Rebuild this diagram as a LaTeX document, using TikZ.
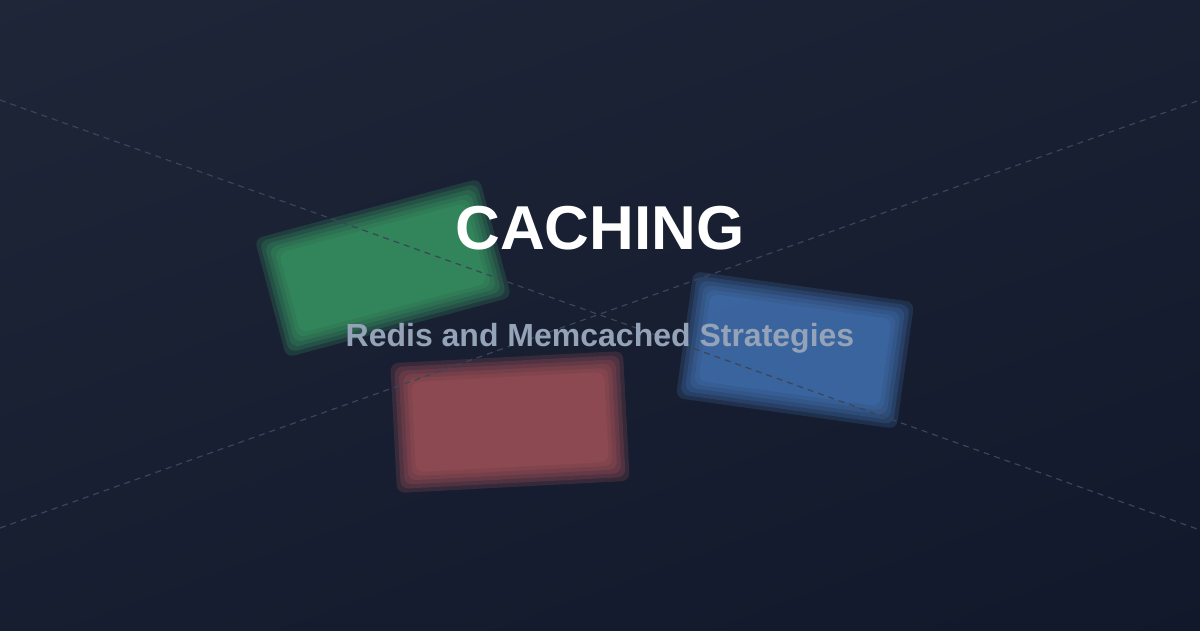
\documentclass[tikz,border=0pt]{standalone}
\usepackage{fontspec}
\setmainfont{Liberation Sans}
\begin{document}
\begin{tikzpicture}[x=1pt,y=1pt,
  guide/.style={draw=guidecol,dashed,line width=1.2pt,dash pattern=on 6pt off 5pt},
  titletext/.style={font=\bfseries\fontsize{62}{70}\selectfont,text=white},
  subtext/.style={font=\bfseries\fontsize{32}{38}\selectfont,text=subcol}]
\definecolor{bgA}{HTML}{1F2739}
\definecolor{bgB}{HTML}{10172A}
\definecolor{guidecol}{HTML}{3A4559}
\definecolor{gcol}{HTML}{3DAB6A}
\definecolor{rcol}{HTML}{B95A5E}
\definecolor{bcol}{HTML}{4A80C6}
\definecolor{subcol}{HTML}{94A3B8}
\useasboundingbox (0,0) rectangle (1200,-630);
\shade[top color=bgA,bottom color=bgB,shading angle=20] (-200,200) rectangle (1400,-830);
\clip (0,0) rectangle (1200,-630);
\foreach \cx/\cy/\w/\h/\ang/\col in {383/268/205/95/15/gcol, 510/422/205/102/3/rcol, 795/350/195/100/-8/bcol}{
  \foreach \d in {14,10,6,2,-2,-6}{
    \fill[\col,opacity=0.2,rounded corners=8pt,rotate around={\ang:(\cx,-\cy)}]
      (\cx-\w/2-\d,-\cy-\h/2-\d) rectangle (\cx+\w/2+\d,-\cy+\h/2+\d);
  }
}
\coordinate (l1a) at (0,-100); \coordinate (l1b) at (1200,-530);
\coordinate (l2a) at (0,-528); \coordinate (l2b) at (1200,-100);
\draw[guide] (l1a) -- (l1b);
\draw[guide] (l2a) -- (l2b);
\node[titletext] (title) at (600,-228) {CACHING};
\node[subtext] (sub) at (600,-338) {Redis and Memcached Strategies};
\end{tikzpicture}
\end{document}
